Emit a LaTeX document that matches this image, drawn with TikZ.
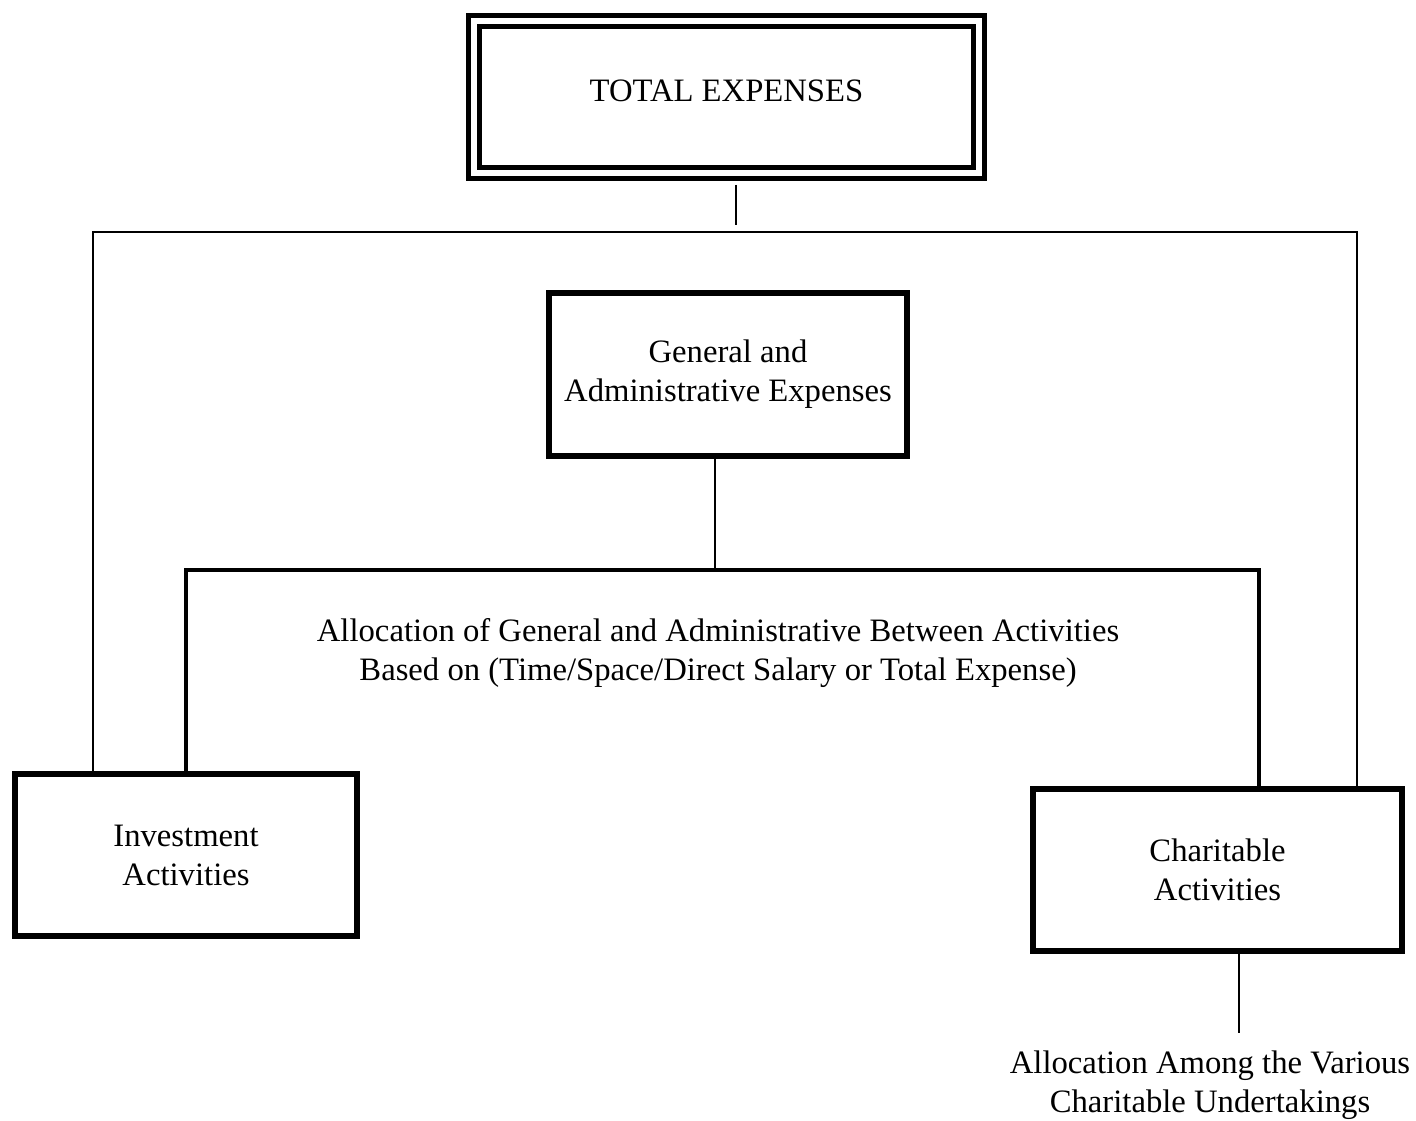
\documentclass[tikz,border=0pt]{standalone}
\usepackage{fontspec}
\setmainfont{Liberation Serif}
\begin{document}
\begin{tikzpicture}[x=0.02cm, y=-0.02cm, font=\fontsize{18.6}{22.2}\selectfont,
	box/.style = {draw, line width=3.4pt, align=center, inner sep=0pt},
	link/.style = {line width=1.6pt}]
	\useasboundingbox (0,0) rectangle (1416,1121);
	% boxes
	\node [draw, double, line width=0.1cm, double distance=0.12cm, minimum width=10.1cm, minimum height=3.04cm, text depth=0.24cm] (total) at (726.5,97) {TOTAL EXPENSES};
	\node [box, minimum width=7.16cm, minimum height=3.26cm] (gen) at (728,374.5) {General and\\Administrative Expenses};
	\node [box, minimum width=6.84cm, minimum height=3.24cm] (inv) at (186,855) {Investment\\Activities};
	\node [box, minimum width=7.38cm, minimum height=3.24cm] (char) at (1217.5,870) {Charitable\\Activities};
	\node [align=center] (alloc) at (718,653) {Allocation of General and Administrative Between Activities\\Based on (Time/Space/Direct Salary or Total Expense)};
	\node [align=center] (various) at (1210,1085) {Allocation Among the Various\\Charitable Undertakings};
	% connectors
	\coordinate (stem) at (736,185);
	\coordinate (stemend) at (736,225);
	\coordinate (barL) at (93,232);
	\coordinate (barR) at (1357,232);
	\coordinate (midL) at (186,570);
	\coordinate (midR) at (1259,570);
	\coordinate (mid) at (715,570);
	\coordinate (undertake) at (1239,1033);
	\draw [link] (stem) -- (stemend);
	\draw [link] (inv.north -| barL) -- (barL) -- (barR) -- (char.north -| barR);
	\draw [link] (gen.south -| mid) -- (mid);
	\draw [line width=2.3pt] (inv.north -| midL) -- (midL) -- (midR) -- (char.north -| midR);
	\draw [link] (char.south -| undertake) -- (undertake);
\end{tikzpicture}
\end{document}
